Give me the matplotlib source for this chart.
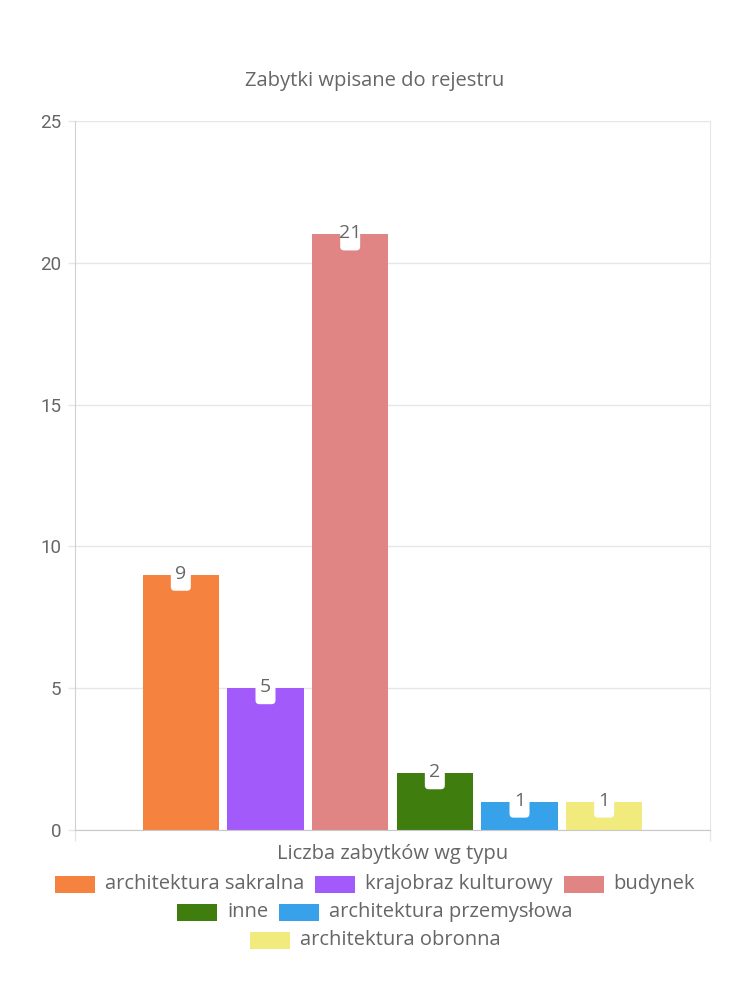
import matplotlib
matplotlib.use("Agg")
import matplotlib.pyplot as plt
from matplotlib.patches import Rectangle, FancyBboxPatch
import numpy as np

# ---- data ----
title = "Zabytki wpisane do rejestru"
category = "Liczba zabytków wg typu"
series = ["architektura sakralna", "krajobraz kulturowy", "budynek",
          "inne", "architektura przemysłowa", "architektura obronna"]
values = [9, 5, 21, 2, 1, 1]
colors = ["#F5833F", "#A35AFA", "#E08484", "#3E7D0E", "#37A2EA", "#F0EB7C"]
yticks = [0, 5, 10, 15, 20, 25]
legend_rows = [3, 2, 1]

W, H = 750, 1000
FONT = "Open Sans"
FS = 14.5
TXT = "#666666"
GRID = "#e6e6e6"

plt.rcParams['font.family'] = [FONT, 'DejaVu Sans']
fig = plt.figure(figsize=(W / 100, H / 100), dpi=100)

L, R, T, B = 75, 710, 121, 830
ax = fig.add_axes([L / W, 1 - B / H, (R - L) / W, (B - T) / H])

n = len(values)
x = np.arange(n)
margin = (n / 0.8 - n) / 2
ax.set_xlim(-0.5 - margin, n - 0.5 + margin)
ax.set_ylim(yticks[0], yticks[-1])

ax.bar(x, values, width=0.9, color=colors, zorder=2)

# axes styling
ax.set_yticks(yticks)
ax.set_yticklabels([str(t) for t in yticks], fontsize=13.5, color=TXT, family="Roboto")
ax.yaxis.grid(True, color=GRID, lw=1, zorder=0)
ax.tick_params(axis='y', length=5, width=1, color=GRID, pad=5)
xl = ax.get_xlim()
ax.set_xticks([xl[0], xl[1]])
ax.set_xticklabels(["", ""])
ax.tick_params(axis='x', which='major', length=8, width=1, color=GRID)
ax.set_xticks([np.mean(xl)], [category], minor=True)
ax.tick_params(axis='x', which='minor', length=0, pad=10, labelsize=FS, labelcolor=TXT)
ax.spines['top'].set_visible(False)
ax.spines['left'].set_color("#d0d0d0")
ax.spines['bottom'].set_color("#c8c8c8")
ax.spines['right'].set_color(GRID)

# value labels with white rounded boxes
ax_w_px = R - L
ax_h_px = B - T
ux = (xl[1] - xl[0]) / ax_w_px   # data per px x
uy = (yticks[-1] - yticks[0]) / ax_h_px
bw_px, bh_px, rad_px = 20, 16, 4
for xi, v in zip(x, values):
    box = FancyBboxPatch((xi - bw_px / 2 * ux, v - bh_px * uy), bw_px * ux, (bh_px + 8) * uy,
                         boxstyle=f"round,pad=0,rounding_size={rad_px * ux}",
                         mutation_aspect=uy / ux, fc="white", ec="none", zorder=3)
    ax.add_patch(box)
    ax.annotate(str(v), (xi, v), xytext=(0, 1), textcoords='offset pixels',
                ha='center', va='center', fontsize=14, color=TXT, zorder=4)

# title
fig.text(0.5, 1 - 81 / H, title, ha='center', va='center', fontsize=FS, color=TXT)

# legend (manual, centered rows)
fig.canvas.draw()
rend = fig.canvas.get_renderer()
box_w, box_h, gap, pad = 40, 17, 10, 11
row_y = [884, 912, 940]
idx = 0
for r, cnt in enumerate(legend_rows):
    items = list(range(idx, idx + cnt))
    idx += cnt
    widths = []
    for i in items:
        t = fig.text(0, 0, series[i], fontsize=FS)
        widths.append(t.get_window_extent(rend).width)
        t.remove()
    total = sum(box_w + gap + w for w in widths) + pad * (cnt - 1)
    cx = W / 2 - total / 2
    yc = row_y[r]
    for i, w in zip(items, widths):
        fig.patches.append(Rectangle((cx / W, 1 - (yc + box_h / 2) / H), box_w / W, box_h / H,
                                     transform=fig.transFigure, fc=colors[i], ec='none'))
        fig.text((cx + box_w + gap) / W, 1 - yc / H, series[i], ha='left', va='center',
                 fontsize=FS, color=TXT)
        cx += box_w + gap + w + pad

fig.savefig("out.png", dpi=100)
